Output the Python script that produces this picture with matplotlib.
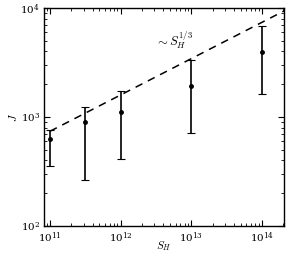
import numpy as np
import matplotlib
matplotlib.use("Agg")
import matplotlib.pyplot as plt
from matplotlib.ticker import LogLocator

plt.rcParams['mathtext.fontset'] = 'cm'
plt.rcParams['font.family'] = ['DejaVu Serif']
plt.rcParams['font.size'] = 7.5

S_H = [1e11, 3.16e11, 1e12, 1e13, 1e14]
J_mean = [630, 906, 1118, 1923, 3975]
J_upper = [760, 1227, 1734, 3335, 6840]
J_lower = [355, 263, 409, 709, 1625]

fit_x = [1e11, 2.05e14]
fit_norm = 740.0
fit_slope = 1.0 / 3.0

fig = plt.figure(figsize=(2.92, 2.57), dpi=100)
ax = fig.add_axes([44/292, 1-226/257, 240/292, 218/257])

J_mean_a = np.array(J_mean)
yerr = np.vstack([J_mean_a - np.array(J_lower), np.array(J_upper) - J_mean_a])
ax.errorbar(S_H, J_mean, yerr=yerr, fmt='o', color='black', markersize=2.5,
            capsize=3, elinewidth=1.2, capthick=0.8)

fx = np.array(fit_x)
ax.plot(fx, fit_norm * (fx / fit_x[0]) ** fit_slope, 'k--', lw=1.1, dashes=(5, 4))

ax.set_xscale('log')
ax.set_yscale('log')
ax.set_xlim(10**10.915, 10**14.31)
ax.set_ylim(1e2, 1e4)

ax.text(10**12.48, 10**3.65, r'$\sim S_H^{1/3}$', fontsize=9)

ax.set_xlabel(r'$S_H$', fontsize=8, labelpad=-4)
ax.set_ylabel(r'$J$', fontsize=8, labelpad=1)

ax.xaxis.set_major_locator(LogLocator(base=10, numticks=10))
ax.xaxis.set_minor_locator(LogLocator(base=10, subs=np.arange(2, 10), numticks=20))
ax.yaxis.set_minor_locator(LogLocator(base=10, subs=np.arange(2, 10), numticks=20))
ax.tick_params(which='both', direction='in', top=True, right=True)
ax.tick_params(which='major', length=4, width=0.8, pad=3)
ax.tick_params(which='minor', length=2, width=0.6)
for s in ax.spines.values():
    s.set_linewidth(1.0)

fig.savefig('out.png', dpi=100)
